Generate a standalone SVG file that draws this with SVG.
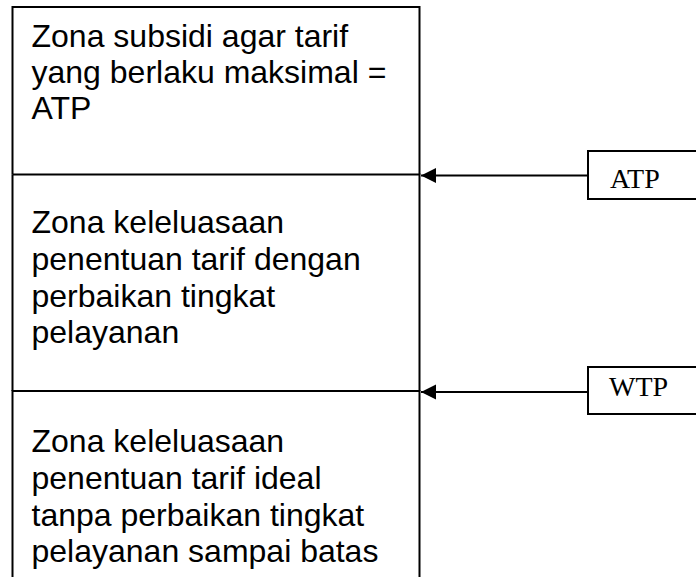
<svg xmlns="http://www.w3.org/2000/svg" width="696" height="577" viewBox="0 0 696 577">
<style>
.zone{fill:none;stroke:#000;stroke-width:2}
.zt{font-family:"Liberation Sans",Arial,sans-serif;font-size:32px;fill:#000}
.lb{font-family:"Liberation Serif","Times New Roman",serif;font-size:28px;fill:#000}
.box{fill:#fff;stroke:#000;stroke-width:2}
.conn{stroke:#000;stroke-width:2;fill:none;marker-end:url(#ah)}
</style>
<defs>
<marker id="ah" markerUnits="userSpaceOnUse" markerWidth="16" markerHeight="16" refX="15" refY="8" orient="auto">
<path d="M0,0.5 L15,8 L0,15.5 Z" fill="#000"/>
</marker>
</defs>
<rect width="696" height="577" fill="#fff"/>
<g id="zone-subsidi">
<path class="zone" d="M12.5,174.5 V7 H419.5 V174.5"/>
<text class="zt" x="31.5" y="47">Zona subsidi agar tarif</text>
<text class="zt" x="31.5" y="83">yang berlaku maksimal =</text>
<text class="zt" x="31.5" y="119">ATP</text>
</g>
<g id="zone-keleluasaan">
<path class="zone" d="M12.5,174.5 H419.5 V391 M12.5,174.5 V391"/>
<text class="zt" x="31.5" y="233">Zona keleluasaan</text>
<text class="zt" x="31.5" y="270">penentuan tarif dengan</text>
<text class="zt" x="31.5" y="306.5">perbaikan tingkat</text>
<text class="zt" x="31.5" y="343">pelayanan</text>
</g>
<g id="zone-ideal">
<path class="zone" d="M12.5,578 V391 H419.5 V578"/>
<text class="zt" x="31.5" y="452">Zona keleluasaan</text>
<text class="zt" x="31.5" y="489">penentuan tarif ideal</text>
<text class="zt" x="31.5" y="525.5">tanpa perbaikan tingkat</text>
<text class="zt" x="31.5" y="562">pelayanan sampai batas</text>
</g>
<g id="label-atp">
<rect class="box" x="588" y="151" width="120" height="48"/>
<text class="lb" x="610" y="188">ATP</text>
</g>
<g id="label-wtp">
<rect class="box" x="588" y="367" width="120" height="47"/>
<text class="lb" x="609" y="396">WTP</text>
</g>
<g id="connectors">
<line class="conn" x1="588" y1="175.5" x2="421" y2="175.5"/>
<line class="conn" x1="588" y1="392" x2="421" y2="392"/>
</g>
</svg>
